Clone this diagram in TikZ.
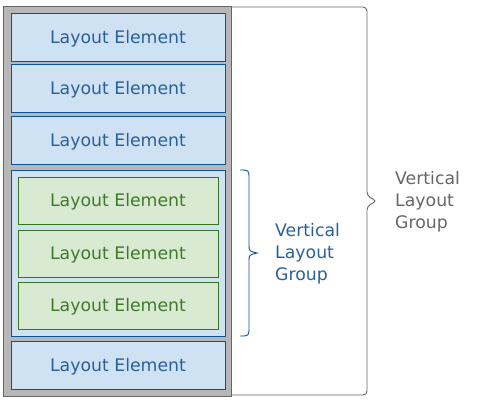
\documentclass[tikz,border=0pt]{standalone}
\usepackage{fontspec}
\setmainfont{DejaVu Sans}
\definecolor{elemfill}{HTML}{CFE2F3}
\definecolor{elemline}{HTML}{0B5394}
\definecolor{elemtext}{HTML}{2A6099}
\definecolor{subfill}{HTML}{D9EAD3}
\definecolor{subline}{HTML}{38761D}
\definecolor{subtext}{HTML}{3F7A2A}
\definecolor{outerfill}{HTML}{B7B7B7}
\definecolor{outerline}{HTML}{666666}
\begin{document}
\begin{tikzpicture}[x=1pt,y=-1pt,
    element/.style={draw=elemline,fill=elemfill,text=elemtext,line width=0.9pt,
      minimum width=214pt,minimum height=48pt,inner sep=0pt,
      text height=12.6pt,text depth=0pt,
      font=\fontsize{17.3}{20}\selectfont},
    subelement/.style={element,draw=subline,fill=subfill,text=subtext,
      minimum width=200pt,minimum height=47pt},
    grouplabel/.style={anchor=west,align=left,inner sep=0pt,
      font=\fontsize{17.3}{22}\selectfont}]
      \useasboundingbox (0,0) rectangle (480,402);
      \draw[draw=outerline,fill=outerfill,line width=1pt] (3,6) rectangle (231,396);
      \draw
        (118,37) node[element] (e1){Layout Element}
        (118,88.5) node[element] (e2){Layout Element}
        (118,140.5) node[element] (e3){Layout Element}
        (118,253) node[element,minimum height=166pt] (grp){}
        (118,200.5) node[subelement] (g1){Layout Element}
        (118,253.5) node[subelement] (g2){Layout Element}
        (118,305.5) node[subelement] (g3){Layout Element}
        (118,365.5) node[element] (e4){Layout Element};
      % braces
      \draw[outerline,line width=0.9pt,rounded corners=4pt]
        (231,7) -- (367,7) -- (367,196) -- (377,201) -- (367,206) -- (367,395) -- (231,395);
      \draw[elemline,line width=0.9pt]
        (240,170) .. controls (249,170) .. (249,179) -- (249,245)
        .. controls (249,251) .. (257,253) .. controls (249,255) .. (249,261)
        -- (249,327) .. controls (249,336) .. (240,336);
      \node[grouplabel,text=elemtext] (inner) at (275,254) {Vertical\\Layout\\Group};
      \node[grouplabel,text=outerline] (outer) at (395,202) {Vertical\\Layout\\Group};
    \end{tikzpicture}
\end{document}
